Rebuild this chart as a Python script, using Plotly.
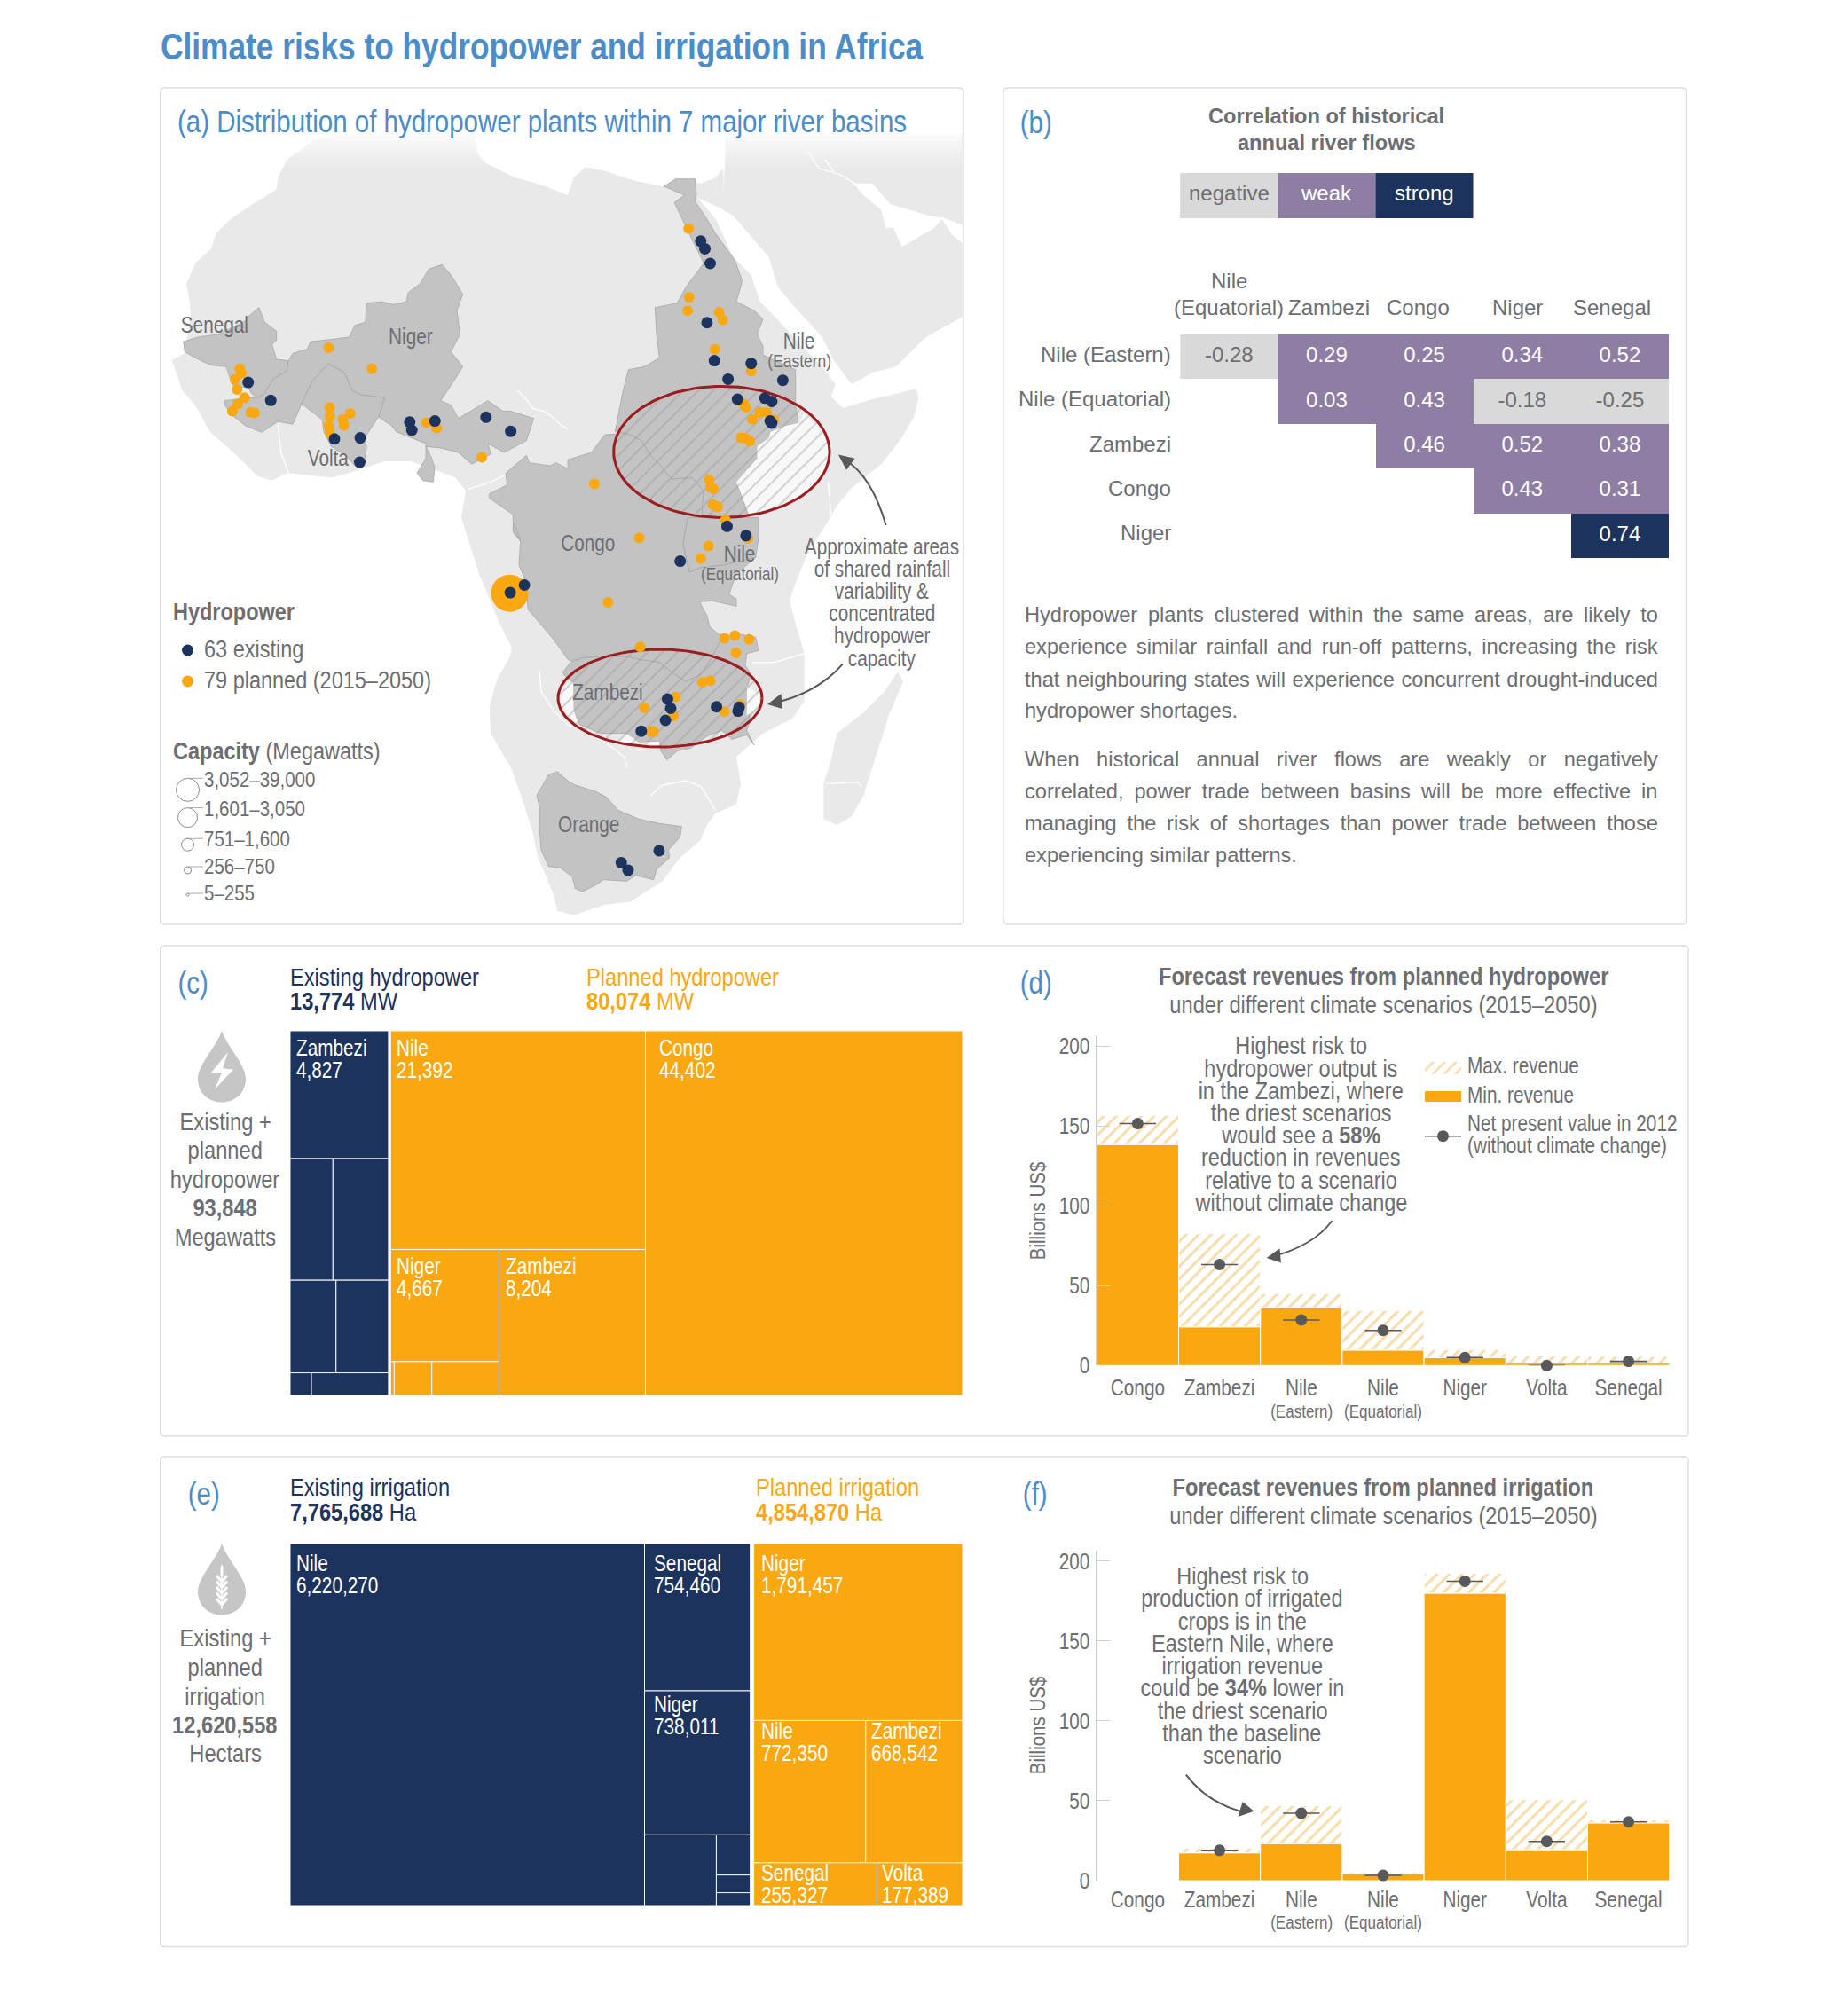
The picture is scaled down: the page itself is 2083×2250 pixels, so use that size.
import numpy as np
import plotly.graph_objects as go

W, H = 2083, 2250
NARROW = "Liberation Sans Narrow, Liberation Sans, Arial"
REG = "Liberation Sans, Arial"
BLUE = "#4a8dc9"; GRAY = "#6d6e71"; DARK = "#58595b"; NAVY = "#1c335e"; ORANGE = "#f9a811"
PURPLE = "#8f7ea3"; LGRAY = "#d9d9d9"; BASIN = "#c3c3c3"; LAND = "#e9e9e9"; HATCH = "#efbc5a"; RED = "#9c1c20"

# map readings were taken from crops of the picture; these convert them to map coordinates
def Z1(p): return [(170 + x / 1.686, 90 + y / 1.633) for x, y in p]
def ZW(p): return [(180 + x / 3, 150 + y / 3) for x, y in p]
def ZE(p): return [(640 + x / 3, 150 + y / 3) for x, y in p]
def ZS(p): return [(540 + x / 3, 590 + y / 3) for x, y in p]

# ---------- DATA ----------
land_africa = ZW([(40,768),(85,745),(105,610),(100,560),(90,510),(120,440),(175,390),(190,340),(240,290),(300,250),(395,190),(400,150),(430,90),(520,25),(600,5),(1060,5),(1075,70),(1100,100),(1200,150),(1290,175),(1380,210)]) \
    + ZE([(20,150),(60,115),(130,130),(220,160),(320,180),(400,165),(450,170),(500,150),(525,120),(530,260),(440,220),(500,290),(560,420),(620,480),(650,570),(700,620),(790,720),(860,790),(905,850),(890,890),(930,930),(1030,900),(1180,865),(1185,900),(1170,960),(1130,1030),(1060,1120),(960,1200),(910,1260),(870,1330)]) \
    + ZS([(1115,90),(1075,190),(1050,260),(1065,320),(1100,440),(1100,600),(1060,660),(960,710),(870,790),(885,880),(870,950),(800,980),(770,1020),(750,1070),(680,1130),(620,1210),(510,1280),(420,1290),(320,1325),(265,1310),(250,1250),(200,1130),(180,1040),(155,960),(110,830),(40,710),(35,620),(60,530),(105,450),(110,420),(70,340),(0,170)]) \
    + ZW([(1020,1300),(1035,1210),(1000,1165),(850,1110),(760,1110),(640,1150),(580,1165),(430,1150),(380,1175),(330,1160),(260,1090),(170,1010),(120,920),(75,870),(60,820)])
land_arabia = ZE([(535,0),(1338,0),(1338,310),(1320,305),(1265,285),(1230,282),(1090,240),(1030,170),(965,170),(1000,210),(1060,260),(1075,320),(1100,320),(1130,385),(1240,320),(1265,290),(1300,345),(1338,375),(1338,620),(1210,690),(1110,790),(1030,810),(960,850),(900,770),(860,690),(760,580),(710,520),(680,420),(560,280),(525,260),(530,120)])
land_madagascar = ZS([(1416,501),(1434,535),(1385,650),(1340,790),(1300,920),(1260,990),(1210,1020),(1165,1000),(1165,880),(1190,800),(1210,710),(1300,640),(1370,570)])
rivers = [ZW([(1210,870),(1240,900),(1260,930),(1310,945),(1360,990),(1380,1000)]), ZW([(400,985),(410,1080),(435,1150)]), ZW([(1040,1205),(1120,1180),(1200,1140),(1240,1090)]),
          ZE([(810,60),(850,120),(920,140),(970,170)]), ZE([(870,90),(900,130)]), ZE([(525,70),(530,120)]), ZE([(880,1180),(890,1290)]),
          ZS([(205,500),(210,570),(250,630),(300,680),(360,700),(440,750),(490,790),(500,825)]), ZS([(580,920),(620,885),(700,870),(750,890),(800,970)]), ZS([(925,470),(1000,470),(1100,440)]), ZS([(1175,880),(1280,875),(1295,890)])]
basin_senegal = ZW([(80,705),(130,690),(200,680),(290,635),(300,620),(335,590),(355,640),(395,670),(395,700),(380,715),(395,765),(435,770),(430,805),(385,830),(355,880),(330,895),(310,880),(300,860),(270,860),(245,850),(225,790),(175,785),(140,770),(85,740)])
basin_niger = ZW([(220,905),(300,895),(330,895),(355,880),(385,830),(430,805),(435,770),(450,745),(500,730),(510,705),(560,700),(640,690),(660,650),(695,640),(700,575),(750,570),(790,580),(835,570),(840,540),(880,510),(910,460),(955,445),(985,480),(1025,545),(1005,600),(1015,680),(985,740),(1025,790),(1000,830),(950,905),(985,920),(1010,965),(1110,905),(1160,940),(1185,940),(1265,965),(1240,1040),(1165,1080),(1110,1050),(1120,1085),(1055,1120),(1010,1080),(950,1065),(900,1060),(920,1100),(930,1130),(925,1180),(890,1175),(870,1150),(900,1100),(900,1050),(800,1010),(785,990),(740,960),(760,895),(680,885),(650,870),(625,810),(570,780),(515,840),(480,915),(450,985),(400,975),(345,1012),(290,990),(240,950),(218,915)])
basin_volta = ZW([(570,780),(625,810),(650,870),(680,885),(760,895),(740,960),(690,1035),(700,1060),(690,1125),(660,1125),(630,1090),(580,1060),(555,1010),(550,970),(480,915),(515,840)])
basin_nile_ea = ZE([(325,180),(365,155),(430,155),(435,205),(430,230),(470,290),(500,340),(545,400),(565,430),(590,500),(570,570),(630,600),(660,630),(640,680),(660,720),(660,750),(770,800),(770,920),(780,980),(735,990),(685,1010),(680,1030),(640,1060),(640,1100),(570,1180),(610,1290),(610,1295),(455,1295),(455,1255),(460,1210),(420,1165),(350,1170),(310,1120),(280,1090),(250,1040),(200,1015),(160,1010),(185,880),(205,800),(260,790),(310,760),(300,680),(295,590),(370,575),(400,520),(430,480),(460,440),(440,400),(380,280),(360,235),(395,210),(360,195)])
basin_nile_eq = ZS([(705,-20),(945,-20),(945,50),(935,115),(830,140),(745,150),(712,165),(690,70)])
basin_congo = ZE([(0,1105),(80,1080),(125,1020),(200,1015),(250,1040),(280,1090),(310,1120),(350,1170),(420,1165),(460,1210),(455,1295),(405,1305)]) \
    + ZS([(690,70),(712,165),(745,150),(830,140),(935,115),(870,170),(845,240),(870,255),(870,280),(790,262),(745,265),(770,310),(780,350),(810,375),(840,380),(810,405),(790,450),(750,510),(700,535),(660,510),(610,470),(540,460),(500,450),(400,450),(350,455),(310,465),(300,460),(250,390),(165,290),(160,200),(135,140),(140,60),(115,20),(120,0)]) \
    + ZW([(1220,1380),(1195,1350),(1195,1290),(1115,1235),(1115,1220),(1175,1190),(1170,1150),(1240,1090),(1250,1115),(1320,1125),(1340,1115),(1380,1135)])
basin_zambezi = ZS([(285,500),(310,470),(350,455),(400,450),(500,450),(540,460),(610,470),(660,510),(700,535),(750,510),(790,450),(810,405),(840,380),(880,375),(935,385),(945,430),(905,440),(900,480),(920,510),(905,560),(905,630),(920,660),(905,700),(925,740),(930,750),(905,715),(855,730),(820,700),(770,720),(715,760),(670,770),(635,800),(615,770),(610,735),(540,740),(490,710),(410,710),(340,680),(320,630),(320,540),(285,510)])
basin_orange = ZS([(235,850),(265,840),(300,870),(325,885),(390,905),(430,925),(470,970),(540,1000),(610,1015),(685,1025),(680,1060),(640,1105),(645,1130),(600,1170),(590,1205),(530,1190),(500,1210),(420,1205),(400,1220),(350,1245),(325,1235),(315,1195),(275,1165),(235,1160),(210,1105),(205,1040),(205,960),(195,920)])
pale_areas = [ZE([(570,1180),(640,1100),(640,1060),(680,1030),(685,1010),(735,990),(780,980),(800,945),(860,1000),(885,1080),(860,1160),(780,1240),(615,1292)]),
              ZS([(270,590),(285,550),(318,535),(320,630),(335,680),(300,650)]), ZS([(470,738),(500,712),(540,740),(610,738),(610,750)]), ZS([(905,550),(950,580),(945,620),(905,650)])]
ellipse_centres = [(813.4,509.4),(744,787)]
ellipse_radii = [(121.7,74),(115,55)]
plants_existing = Z1([(1045,297),(1053,311),(1063,338),(1057,447),(1071,517),(1141,522),(1097,551),(1201,553),(1115,588),(1167,586),(1180,592),(1177,628),(1180,632),(1095,822),(1131,839),(1006,886),(710,930),(683,944),(982,1140),(988,1157),(978,1179),(932,1199),(1075,1154),(1118,1155),(1116,1162),(894,1441),(907,1455),(966,1419),(185,557),(228,590),(349,661),(398,659),(397,704),(492,630),(496,645),(540,628),(637,621),(684,647)])
plants_planned = Z1([(1022,274),(1023,400),(1020,425),(1080,428),(1087,442),(1072,496),(1141,536),(1126,596),(1131,603),(1157,612),(1170,612),(1143,625),(1184,626),(1122,659),(1130,660),(1138,665),(1061,736),(1064,750),(1069,753),(1068,782),(1077,786),(1092,810),(1135,844),(1060,858),(1045,881),(843,744),(928,843),(869,962),(1090,1028),(1110,1023),(1137,1030),(1112,1055),(930,1044),(1048,1109),(1063,1106),(997,1136),(938,1156),(993,1171),(950,1200),(955,1200),(1090,1163),(1120,1150),(169,532),(172,540),(160,551),(164,570),(178,585),(165,597),(155,610),(190,612),(197,613),(338,493),(420,532),(340,603),(340,620),(338,637),(340,650),(379,614),(365,625),(367,636),(524,631),(543,641),(629,695)])
plant_largest = Z1([(682,945)])[0]
basin_labels = ["Senegal","Niger","Volta","Congo","Zambezi","Orange"]
basin_label_xy = Z1([(122,450),(494,472),(337,695),(832,853),(869,1127),(832,1370)])
capacity_labels = ["3,052–39,000","1,601–3,050","751–1,600","256–750","5–255"]
callout_map = ["Approximate areas","of shared rainfall","variability &","concentrated","hydropower","capacity"]

corr_cols = ["Zambezi","Congo","Niger","Senegal"]
corr_rows = ["Nile (Eastern)","Nile (Equatorial)","Zambezi","Congo","Niger"]
corr = [[-0.28,0.29,0.25,0.34,0.52],
        [None,0.03,0.43,-0.18,-0.25],
        [None,None,0.46,0.52,0.38],
        [None,None,None,0.43,0.31],
        [None,None,None,None,0.74]]
corr_legend = ["negative","weak","strong"]
para1 = ["Hydropower plants clustered within the same areas, are likely to",
         "experience similar rainfall and run-off patterns, increasing the risk",
         "that neighbouring states will experience concurrent drought-induced",
         "hydropower shortages."]
para2 = ["When historical annual river flows are weakly or negatively",
         "correlated, power trade between basins will be more effective in",
         "managing the risk of shortages than power trade between those",
         "experiencing similar patterns."]

hydro_names = ["Zambezi","","","","","","","Nile","Niger","","","","Zambezi","Congo"]
hydro_vals = [4827,2000,2595,1634,1865,185,668,21392,4667,47,488,874,8204,44402]
irr_names = ["Nile","Senegal","Niger","","","","","Niger","Nile","Zambezi","Senegal","Volta"]
irr_vals = [6220270,754460,738011,246000,66000,29000,21000,1791457,772350,668542,255327,177389]

cats = ["Congo","Zambezi","Nile","Nile","Niger","Volta","Senegal"]
subcats = ["","","(Eastern)","(Equatorial)","","",""]
d_min = [138.4,24.2,36.2,9.7,5,1.5,1.5]
d_max = [156.6,82.6,45,34.5,10,6,5.7]
d_npv = [151.5,63.2,28.5,22,5,0,2.6]
f_min = [None,17.4,23.2,4.4,180,19.4,36.2]
f_max = [None,20.4,46.9,5.3,192.5,50.7,38]
f_npv = [None,19,42.2,3.3,187.5,24.6,36.8]
callout_d = ["Highest risk to","hydropower output is","in the Zambezi, where","the driest scenarios","would see a <b>58%</b>","reduction in revenues","relative to a scenario","without climate change"]
callout_f = ["Highest risk to","production of irrigated","crops is in the","Eastern Nile, where","irrigation revenue","could be <b>34%</b> lower in","the driest scenario","than the baseline","scenario"]

# ---------- helpers ----------
ann, shapes, traces = [], [], []
def px(x): return x / W
def py(y): return 1 - y / H
BOX = dict(borderpad=0, borderwidth=0)
def T(x, y, s, size, color=GRAY, anchor="center", font=NARROW, **kw):
    ann.append(dict(x=px(x), y=py(y), xref="paper", yref="paper", text=s, showarrow=False, xanchor=anchor, **BOX,
                    yanchor="middle", font=dict(size=size, color=color, family=font), align=anchor if anchor != "center" else "center", **kw))
def MT(x, y, s, size, color=GRAY, anchor="center"):
    ann.append(dict(x=x, y=y, xref="x", yref="y", text=s, showarrow=False, xanchor=anchor, yanchor="middle", align=anchor, **BOX,
                    font=dict(size=size, color=color, family=NARROW)))
def path(cmds):
    out = []
    for c in cmds:
        out.append(c[0])
        v = c[1:]
        out.append(" ".join(f"{px(v[i]):.5f},{py(v[i+1]):.5f}" for i in range(0, len(v), 2)))
    return " ".join(out)
def P(cmds, fill=None, line=None, lw=1, layer="above"):
    shapes.append(dict(type="path", xref="paper", yref="paper", path=path(cmds), layer=layer,
                       fillcolor=fill if fill else "rgba(0,0,0,0)",
                       line=dict(color=line if line else "rgba(0,0,0,0)", width=lw)))
def card(x0, y0, x1, y1):
    r = 5
    P([("M",x0+r,y0),("L",x1-r,y0),("Q",x1,y0,x1,y0+r),("L",x1,y1-r),("Q",x1,y1,x1-r,y1),("L",x0+r,y1),("Q",x0,y1,x0,y1-r),("L",x0,y0+r),("Q",x0,y0,x0+r,y0),("Z",)],
      line="#dedede", lw=1.5, layer="below")
def arrow(start, ctrl, end, head):
    P([("M",*start),("Q",*ctrl,*end)], line=DARK, lw=2)
    P([("M",*head[0]),("L",*head[1]),("L",*head[2]),("Z",)], fill=DARK)
def xdom(a, b): return [a / W, b / W]
def ydom(top, bottom): return [1 - bottom / H, 1 - top / H]
def poly(pts, **kw):
    xs = [p[0] for p in pts] + [pts[0][0]]
    ys = [p[1] for p in pts] + [pts[0][1]]
    return go.Scatter(x=xs, y=ys, mode="lines", hoverinfo="skip", showlegend=False, xaxis="x", yaxis="y", fill="toself", **kw)

# ---------- page ----------
T(181, 53, "<b>Climate risks to hydropower and irrigation in Africa</b>", 42.5, BLUE, "left")
card(180.7, 99, 1086, 1042); card(1131, 99, 1900.6, 1042)
card(180.7, 1066, 1903, 1619); card(180.7, 1642, 1903, 2194.5)

# ---------- (a) map ----------
for pts in (land_arabia, land_africa, land_madagascar):
    traces.append(poly(pts, fillcolor=LAND, line=dict(color="rgba(0,0,0,0)", width=0)))
for r in rivers:
    traces.append(go.Scatter(x=[p[0] for p in r], y=[p[1] for p in r], mode="lines", line=dict(color="white", width=1.3),
                             hoverinfo="skip", showlegend=False, xaxis="x", yaxis="y"))
for pts in (basin_senegal, basin_niger, basin_volta, basin_congo, basin_nile_eq, basin_nile_ea, basin_zambezi, basin_orange):
    traces.append(poly(pts, fillcolor=BASIN, line=dict(color="#a6a6a6", width=0.8)))
for pts in pale_areas:
    traces.append(poly(pts, fillcolor="#f8f8f8", line=dict(color="rgba(0,0,0,0)", width=0)))
t = np.linspace(0, 2 * np.pi, 121)
for (cx, cy), (rx, ry) in zip(ellipse_centres, ellipse_radii):
    ex = cx + rx * np.cos(t); ey = cy + ry * np.sin(t)
    traces.append(go.Scatter(x=ex, y=ey, mode="lines", fill="toself", line=dict(color=RED, width=3), hoverinfo="skip", showlegend=False,
                             fillpattern=dict(shape="/", fgcolor="#9a9a9a", bgcolor="rgba(0,0,0,0)", size=12, solidity=0.14), xaxis="x", yaxis="y"))
traces.append(go.Scatter(x=[plant_largest[0]], y=[plant_largest[1]], mode="markers", marker=dict(size=42, color=ORANGE), hoverinfo="skip", showlegend=False, xaxis="x", yaxis="y"))
traces.append(go.Scatter(x=[p[0] for p in plants_planned], y=[p[1] for p in plants_planned], mode="markers", marker=dict(size=12, color=ORANGE), hoverinfo="skip", showlegend=False, xaxis="x", yaxis="y"))
traces.append(go.Scatter(x=[p[0] for p in plants_existing], y=[p[1] for p in plants_existing], mode="markers", marker=dict(size=13, color=NAVY), hoverinfo="skip", showlegend=False, xaxis="x", yaxis="y"))
# gradient over the top of the map
for i in range(12):
    shapes.append(dict(type="rect", xref="x", yref="y", x0=183, x1=1084, y0=128 + i * 5, y1=133 + i * 5,
                       fillcolor="white", line=dict(width=0), layer="above", opacity=min(1, (12 - i) / 10)))
shapes.append(dict(type="rect", xref="x", yref="y", x0=183, x1=1084, y0=101, y1=128, fillcolor="white", line=dict(width=0), layer="above"))
T(199.5, 137, "(a) Distribution of hydropower plants within 7 major river basins", 35.5, BLUE, "left")
for s, (x, y) in zip(basin_labels, basin_label_xy):
    MT(x, y, s, 25)
(nx, ny), (nx2, ny2) = Z1([(1232, 480), (1232, 517)])
MT(nx, ny, "Nile", 25); MT(nx2, ny2, "(Eastern)", 21)
(nx, ny), (nx2, ny2) = Z1([(1119, 872), (1119, 908)])
MT(nx, ny, "Nile", 25); MT(nx2, ny2, "(Equatorial)", 20.5)
for s, (x, y) in zip(callout_map, Z1([(1390, v) for v in [859, 900, 941, 982, 1023, 1064]])):
    MT(x, y, s, 25)
arrow((998.6,592),(982.6,537),(953,518.7),[(945,512.5),(963.6,516.8),(954,529.7)])
arrow((950,748.3),(923.3,779),(878.8,791),[(865,794),(880.5,782),(881.8,799)])
T(195, 689, "<b>Hydropower</b>", 28.3, GRAY, "left")
T(229.5, 731, "63 existing", 28.3, GRAY, "left")
T(229.5, 766, "79 planned (2015–2050)", 28.3, GRAY, "left")
T(195, 846, "<b>Capacity</b> (Megawatts)", 28.3, GRAY, "left")
legend_dots = Z1([(70, 1050), (70, 1107)])
traces.append(go.Scatter(x=[p[0] for p in legend_dots], y=[p[1] for p in legend_dots], mode="markers", marker=dict(size=13, color=[NAVY, ORANGE]), hoverinfo="skip", showlegend=False, xaxis="x", yaxis="y"))
cap_pts = Z1([(70, 1307), (70, 1358), (70, 1408), (70, 1455), (70, 1500)])
cap_d = [26, 22, 14, 8, 3]
traces.append(go.Scatter(x=[p[0] for p in cap_pts], y=[p[1] for p in cap_pts], mode="markers", marker=dict(size=cap_d, color="rgba(255,255,255,0)", line=dict(color=DARK, width=1)), hoverinfo="skip", showlegend=False, xaxis="x", yaxis="y"))
for s, (x, y), (cx, cy), d in zip(capacity_labels, Z1([(101, v) for v in [1288, 1342, 1397, 1447, 1497]]), cap_pts, cap_d):
    MT(x, y, s, 24.7, anchor="left")
    shapes.append(dict(type="line", xref="x", yref="y", x0=cx, x1=x - 1, y0=cy - d * 0.5, y1=cy - d * 0.5, line=dict(color="#a8a8a8", width=1), layer="above"))

# ---------- (b) table ----------
T(1167, 138, "(b)", 35.5, BLUE)
T(1495, 131.5, "<b>Correlation of historical</b>", 23.6, GRAY, font=REG)
T(1495, 160.5, "<b>annual river flows</b>", 23.6, GRAY, font=REG)
for i, (s, c, tc) in enumerate(zip(corr_legend, [LGRAY, PURPLE, NAVY], [GRAY, "white", "white"])):
    shapes.append(dict(type="rect", xref="paper", yref="paper", x0=px(1330.2 + i * 110.1), x1=px(1330.2 + (i + 1) * 110.1),
                       y0=py(246), y1=py(195), fillcolor=c, line=dict(width=0), layer="below"))
    T(1330.2 + (i + 0.5) * 110.1, 217, s, 24, tc, font=REG)
z = [[None if v is None else (0 if v < 0 else (2 if v > 0.6 else 1)) for v in row] for row in corr]
traces.append(go.Heatmap(z=z, x=list(range(5)), y=list(range(5)), zmin=0, zmax=2, showscale=False, hoverinfo="skip", xaxis="x2", yaxis="y2",
                         colorscale=[[0, LGRAY], [0.333, LGRAY], [0.333, PURPLE], [0.667, PURPLE], [0.667, NAVY], [1, NAVY]]))
tx, ty, ts, tc = [], [], [], []
for r, row in enumerate(corr):
    for c, v in enumerate(row):
        if v is not None:
            tx.append(c); ty.append(r); ts.append(f"{v:.2f}"); tc.append(GRAY if v < 0 else "white")
traces.append(go.Scatter(x=tx, y=ty, text=ts, mode="text", textfont=dict(size=24, color=tc, family=REG), textposition="middle center", hoverinfo="skip", showlegend=False, xaxis="x2", yaxis="y2"))
T(1385, 317, "Nile", 24, font=REG); T(1385, 346, "(Equatorial)", 24, font=REG)
for s, x in zip(corr_cols, [1497.5, 1598.6, 1710, 1817]):
    T(x, 346, s, 24, font=REG)
for s, y in zip(corr_rows, [399, 450, 500, 550.5, 601]):
    T(1320, y, s, 24, anchor="right", font=REG)
AW = {' ':278,'a':556,'b':556,'c':500,'d':556,'e':556,'f':278,'g':556,'h':556,'i':222,'j':222,'k':500,'l':222,'m':833,'n':556,'o':556,'p':556,'q':556,'r':333,'s':500,'t':278,'u':556,'v':500,'w':722,'x':500,'y':500,'z':500,',':278,'.':278,'-':333,'H':722,'W':944}
def just(line, y, size=23.6, target=714, last=False):
    nat = sum(AW[c] for c in line) * size / 1000
    ws = 0 if last else (target - nat) / line.count(" ")
    T(1155, y, f"<span style='word-spacing:{ws:.2f}px'>{line}</span>", size, GRAY, "left", font=REG)
for i, (l, y) in enumerate(zip(para1, [693, 729, 765.5, 801])):
    just(l, y, last=i == 3)
for i, (l, y) in enumerate(zip(para2, [855.5, 891.6, 927.7, 964])):
    just(l, y, last=i == 3)

# ---------- treemaps ----------
def node_sum(n, vals):
    return vals[n] if isinstance(n, int) else sum(node_sum(c, vals) for c in n[1])
def layout_tree(n, vals, x0, y0, x1, y1, out):
    if isinstance(n, int):
        out[n] = (x0, y0, x1, y1); return
    tot = node_sum(n, vals); pos = 0
    for c in n[1]:
        f = node_sum(c, vals) / tot
        if n[0] == "v":
            layout_tree(c, vals, x0, y0 + (y1 - y0) * pos, x1, y0 + (y1 - y0) * (pos + f), out)
        else:
            layout_tree(c, vals, x0 + (x1 - x0) * pos, y0, x0 + (x1 - x0) * (pos + f), y1, out)
        pos += f
def treemap(tree_left, tree_right, vals, names, gap, xa, ya, offs):
    L = node_sum(tree_left, vals); R = node_sum(tree_right, vals)
    rects = {}
    layout_tree(tree_left, vals, 0, 0, L, 1, rects)
    layout_tree(tree_right, vals, L + gap, 0, L + gap + R, 1, rects)
    idx = sorted(rects)
    colors = [NAVY if rects[i][0] < L else ORANGE for i in idx]
    traces.append(go.Bar(x=[(rects[i][0] + rects[i][2]) / 2 for i in idx], width=[rects[i][2] - rects[i][0] for i in idx],
                         base=[rects[i][1] for i in idx], y=[rects[i][3] - rects[i][1] for i in idx],
                         marker=dict(color=colors, line=dict(color="#f4f6fa", width=1)), hoverinfo="skip", showlegend=False, xaxis=xa, yaxis=ya))
    for i in idx:
        if names[i]:
            dx, dy = offs.get(i, (7, 19))
            for k, s in enumerate([names[i], f"{vals[i]:,}"]):
                ann.append(dict(x=rects[i][0], y=rects[i][1], xref=xa, yref=ya, text=s, showarrow=False, xanchor="left", yanchor="middle", align="left", **BOX,
                                xshift=dx, yshift=-(dy + k * 25), font=dict(size=25, color="white", family=NARROW)))
    return L + gap + R

c_left = ("v", [0, ("h", [1, 2]), ("h", [3, 4]), ("h", [5, 6])])
c_right = ("h", [("v", [7, ("h", [("v", [8, ("h", [9, 10, 11])]), 12])]), 13])
c_total = treemap(c_left, c_right, hydro_vals, hydro_names, 297, "x3", "y3", {13: (15, 19)})
e_left = ("h", [0, ("v", [1, 2, ("h", [3, ("v", [4, 5, 6])])])])
e_right = ("v", [7, ("h", [8, 9]), ("h", [10, 11])])
e_total = treemap(e_left, e_right, irr_vals, irr_names, 62000, "x5", "y5",
                  {0: (7, 22), 1: (10, 22), 2: (10, 15), 7: (8, 22), 8: (8, 12), 9: (6, 12), 10: (8, 11), 11: (5, 11)})

T(327, 1100.7, "Existing hydropower", 28.5, NAVY, "left"); T(327, 1128, "<b>13,774</b> MW", 28.5, NAVY, "left")
T(661, 1100.7, "Planned hydropower", 28.5, ORANGE, "left"); T(661, 1128, "<b>80,074</b> MW", 28.5, ORANGE, "left")
T(217.5, 1108, "(c)", 35.5, BLUE)
for s, y in zip(["Existing +", "planned", "hydropower", "<b>93,848</b>", "Megawatts"], [1264, 1296, 1329, 1361, 1394]):
    T(253.6, y, s, 28.5)
T(229, 1684, "(e)", 35.5, BLUE)
T(327, 1676, "Existing irrigation", 28.5, NAVY, "left"); T(327, 1704, "<b>7,765,688</b> Ha", 28.5, NAVY, "left")
T(852, 1676, "Planned irrigation", 28.5, ORANGE, "left"); T(852, 1704, "<b>4,854,870</b> Ha", 28.5, ORANGE, "left")
for s, y in zip(["Existing +", "planned", "irrigation", "<b>12,620,558</b>", "Hectars"], [1846, 1879, 1912, 1944, 1976]):
    T(253.6, y, s, 28.5)
def drop(top):
    P([("M",250,top),("C",244,top+18,223,top+38,223,top+54),("C",223,top+70,235,top+80.5,250,top+80.5),
       ("C",265,top+80.5,277,top+70,277,top+54),("C",277,top+38,256,top+18,250,top),("Z",)], fill="#c6c6c6")
drop(1162)
P([("M",257,1186),("L",238,1209),("L",250,1209),("L",242,1228),("L",263,1205.5),("L",251,1204.4),("Z",)], fill="white")
drop(1740)
P([("M",250,1764),("L",250,1814)], line="white", lw=1.5)
for k in range(5):
    yy = 1778 + k * 6.5
    P([("M",250,yy+5),("L",244,yy-2)], line="white", lw=3)
    P([("M",250,yy+5),("L",256,yy-2)], line="white", lw=3)
P([("M",250,1766),("L",250,1776)], line="white", lw=3)

# ---------- bars ----------
def bars(vmin, vmax, npv, xa, ya):
    idx = list(range(7))
    diff = [None if a is None else b - a for a, b in zip(vmin, vmax)]
    traces.append(go.Bar(x=idx, y=vmin, width=1, marker=dict(color=ORANGE, line=dict(color="white", width=1)), hoverinfo="skip", showlegend=False, xaxis=xa, yaxis=ya))
    traces.append(go.Bar(x=idx, y=diff, base=vmin, width=1, hoverinfo="skip", showlegend=False, xaxis=xa, yaxis=ya,
                         marker=dict(color="white", line=dict(color="white", width=1), pattern=dict(shape="/", fgcolor=HATCH, bgcolor="white", size=10, solidity=0.3))))
    traces.append(go.Scatter(x=idx, y=npv, mode="markers", marker=dict(color=DARK, size=13), hoverinfo="skip", showlegend=False, xaxis=xa, yaxis=ya,
                             cliponaxis=False, error_x=dict(type="constant", value=0.224, thickness=1.6, color=DARK, width=0)))
bars(d_min, d_max, d_npv, "x4", "y4")
bars(f_min, f_max, f_npv, "x6", "y6")
T(1167, 1108, "(d)", 35.5, BLUE)
T(1559, 1100, "<b>Forecast revenues from planned hydropower</b>", 28.5)
T(1559, 1132, "under different climate scenarios (2015–2050)", 28.5)
T(1167, 1684, "(f)", 35.5, BLUE)
T(1559, 1676, "<b>Forecast revenues from planned irrigation</b>", 28.5)
T(1559, 1708, "under different climate scenarios (2015–2050)", 28.5)
T(1168.5, 1365, "Billions US$", 24.7, textangle=-90)
T(1168.5, 1945, "Billions US$", 24.7, textangle=-90)
for s, y in zip(callout_d, [1178, 1204, 1229, 1254, 1279, 1304, 1330, 1355]):
    T(1466, y, s, 28.3)
for s, y in zip(callout_f, [1776, 1801, 1827, 1852, 1877, 1902, 1928, 1953, 1978]):
    T(1400, y, s, 28.3)
for xa, y0 in (("x4", 1590.5), ("x6", 2166.5)):
    for i, s in enumerate(subcats):
        if s:
            ann.append(dict(x=i, y=py(y0), xref=xa, yref="paper", text=s, showarrow=False, xanchor="center", yanchor="middle", **BOX, font=dict(size=20.5, color=GRAY, family=NARROW)))
arrow((1501.6,1376),(1480,1405),(1432,1417),[(1427.7,1418),(1442.4,1407.3),(1444,1423.6)])
arrow((1336.8,2000.7),(1359.8,2031),(1398,2041.8),[(1413.4,2041.8),(1400.6,2031),(1395.5,2048)])
swatch = [(1606,1197),(1647,1197),(1647,1210.5),(1606,1210.5),(1606,1197)]
traces.append(go.Scatter(x=[p[0] for p in swatch], y=[p[1] for p in swatch], mode="lines", fill="toself", line=dict(width=0, color="white"), hoverinfo="skip", showlegend=False,
                         fillpattern=dict(shape="/", fgcolor=HATCH, bgcolor="white", size=9, solidity=0.3), xaxis="x7", yaxis="y7"))
shapes.append(dict(type="rect", xref="paper", yref="paper", x0=px(1606), x1=px(1647), y0=py(1242), y1=py(1230), fillcolor=ORANGE, line=dict(width=0), layer="above"))
traces.append(go.Scatter(x=[1626.5], y=[1280.7], mode="markers", marker=dict(color=DARK, size=13), hoverinfo="skip", showlegend=False, xaxis="x7", yaxis="y7",
                         error_x=dict(type="constant", value=20.5, thickness=1.6, color=DARK, width=0)))
T(1653.7, 1201, "Max. revenue", 25, GRAY, "left")
T(1653.7, 1234, "Min. revenue", 25, GRAY, "left")
T(1653.7, 1266, "Net present value in 2012", 25, GRAY, "left")
T(1653.7, 1291, "(without climate change)", 25, GRAY, "left")

# ---------- figure ----------
hidden = dict(visible=False, showgrid=False, zeroline=False, fixedrange=True)
def bar_x(dom, standoff):
    return dict(domain=dom, range=[-0.5, 6.5], tickmode="array", tickvals=list(range(7)), ticktext=cats, ticks="", showline=False, showgrid=False, zeroline=False,
                ticklabelstandoff=standoff, tickfont=dict(size=25, color=GRAY, family=NARROW), automargin=False)
def bar_y(dom):
    return dict(domain=dom, range=[0, 206.8], tickmode="array", tickvals=[0, 50, 100, 150, 200], ticks="inside", ticklen=15, tickcolor="#cfcfcf", tickwidth=1,
                showline=True, linecolor="#cfcfcf", linewidth=1, showgrid=False, zeroline=False, ticklabelstandoff=2,
                tickfont=dict(size=25, color=GRAY, family=NARROW), automargin=False)
lay = dict(width=W, height=H, margin=dict(l=0, r=0, t=0, b=0), paper_bgcolor="white", plot_bgcolor="rgba(0,0,0,0)", showlegend=False, barmode="overlay",
           annotations=ann, shapes=shapes,
           xaxis=dict(domain=xdom(170, 1100), range=[170, 1100], **hidden),
           yaxis=dict(domain=ydom(90, 1050), range=[1050, 90], anchor="x", **hidden),
           xaxis2=dict(domain=xdom(1330.2, 1881), range=[-0.5, 4.5], anchor="y2", **hidden),
           yaxis2=dict(domain=ydom(377, 629), range=[4.5, -0.5], anchor="x2", **hidden),
           xaxis3=dict(domain=xdom(327, 1085), range=[0, c_total], anchor="y3", **hidden),
           yaxis3=dict(domain=ydom(1162, 1573), range=[1, 0], anchor="x3", **hidden),
           xaxis4=dict(anchor="y4", **bar_x(xdom(1236.3, 1881.7), 8)),
           yaxis4=dict(anchor="x4", **bar_y(ydom(1167, 1539.3))),
           xaxis5=dict(domain=xdom(327, 1085), range=[0, e_total], anchor="y5", **hidden),
           yaxis5=dict(domain=ydom(1740, 2148), range=[1, 0], anchor="x5", **hidden),
           xaxis6=dict(anchor="y6", **bar_x(xdom(1236.3, 1881.7), 4)),
           yaxis6=dict(anchor="x6", **bar_y(ydom(1747.7, 2120))),
           xaxis7=dict(domain=[0, 1], range=[0, W], anchor="y7", **hidden),
           yaxis7=dict(domain=[0, 1], range=[H, 0], anchor="x7", **hidden))
fig = go.Figure(data=traces, layout=lay)
js = """
document.body.style.margin='0';document.body.style.overflow='hidden';
document.querySelectorAll('.main-svg text').forEach(function(t){
  if((t.style.fontFamily||'').indexOf('Narrow')>=0){
    var L=t.getComputedTextLength();
    if(L>0){
      t.setAttribute('lengthAdjust','spacingAndGlyphs');t.setAttribute('textLength',(L*0.83).toFixed(1));
      var r=t.parentNode.querySelector('rect.bg');
      if(r){
        var w=parseFloat(r.getAttribute('width'));var x=parseFloat(r.getAttribute('x'))||0;
        var a=t.style.textAnchor||t.getAttribute('text-anchor')||'start';
        var nw=w*0.83;
        r.setAttribute('width',nw);
        if(a==='middle'){r.setAttribute('x',x+(w-nw)/2);}
        else if(a==='end'){r.setAttribute('x',x+(w-nw));}
      }
    }
  }
});
"""
fig.write_html("out.html", config=dict(displayModeBar=False), post_script=js)
